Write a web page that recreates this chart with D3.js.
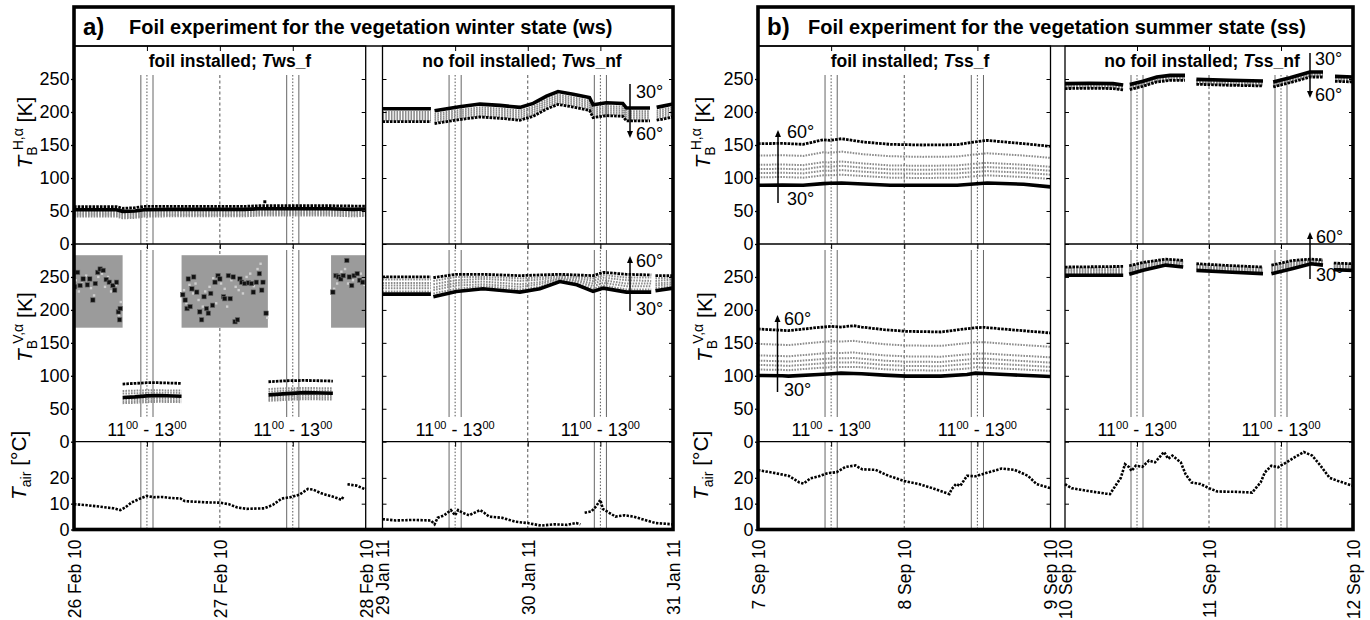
<!DOCTYPE html>
<html><head><meta charset="utf-8">
<script src="https://cdn.jsdelivr.net/npm/d3@7"></script>
<style>body{margin:0;background:#fff} svg{display:block;font-family:"Liberation Sans",Arial,sans-serif}</style>
</head><body><svg id="c" width="1370" height="620"></svg>
<script>
// ================= DATA =================
const angles = ["30°","35°","40°","45°","50°","55°","60°"];
const hTicks = [0,50,100,150,200,250];
const tTicks = [0,10,20];
const dateTicks = [0,24,48];
const guideSolid = [11,13,35,37];
const guideDot = [12,36];
const guideDash = [24];
const noonLabels = [12,36];

const datesWsF = ["26 Feb 10","27 Feb 10","28 Feb 10"];
const datesWsNF = ["29 Jan 11","30 Jan 11","31 Jan 11"];
const datesSsF = ["7 Sep 10","8 Sep 10","9 Sep 10"];
const datesSsNF = ["10 Sep 10","11 Sep 10","12 Sep 10"];

// ---- winter state, foil (ws_f) ----
const wsfH_t = [0,4,7,8,10,11.5,16,22,28,30.5,31.5,36,42,46,48];
const wsfH = [
 [52,52,52,49.5,50,52,52.5,52.5,52.5,53.5,53.5,53.5,53.5,52.5,53],
 [49.5,49.5,49.5,47,47.5,49.5,50,50,50,51,51,51,51,50,50.5],
 [47.5,47.5,47.5,45,45.5,47.5,48,48,48,49,49,49,49,48,48.5],
 [45.5,45.5,45.5,43,43.5,45.5,46,46,46,47,47,47,47,46,46.5],
 [43.5,43.5,43.5,41,41.5,43.5,44,44,44,45,45,45,45,44,44.5],
 [41.5,41.5,41.5,39,39.5,41.5,42,42,42,43,43,43,43,42,42.5],
 [56.5,56.5,56.5,54,55,57,57,57,57,58,58,58,58,57.5,57.5]
];
const wsfH_out = [[31.4,64]];
const wsfV_t = [8,10,12,14,17.7,25,32,35,38,42.6];
const wsfV = [
 [67,68,69.5,70,69,null,71,73,74.5,73.5],
 [64,64.5,65.5,66,65.5,null,67.5,69,70,69.5],
 [61,61.5,62.5,63,62.5,null,64.5,66,67,66.5],
 [58.5,59,60,60.5,60,null,62,63.5,64.5,64],
 [73,73.5,74,74.5,74,null,76,77.5,78,77.5],
 [77,77.5,78,78,77.5,null,80,81,81.5,81],
 [87.5,88.5,89.5,89.5,88.5,null,91,92.5,93,92]
];
const wsfV_maskStart = [0,17.7,42.3];
const wsfV_maskEnd = [8,31.9,48];
const wsfV_maskK = [173,283];
const wsfV_blk = [[0.1,235],[0.6,257],[1.0,237],[1.5,247],[2.2,238],[2.6,247],[3.1,215],[3.5,240],[3.9,257],[4.3,262],[4.8,260],[5.3,246],[5.8,242],[6.4,237],[6.7,230],[7.0,242],[7.3,197],[7.5,185],[7.6,202],
 [17.9,223],[18.3,215],[18.6,202],[18.8,247],[19.1,205],[19.4,232],[19.7,250],[20.2,227],[20.7,197],[21.0,185],[21.4,220],[21.8,202],[22.1,195],[22.5,225],[22.8,207],[23.2,242],[23.7,252],[24.0,247],[24.6,220],[24.8,217],[25.4,252],[25.7,217],[26.2,250],[26.5,182],[26.9,185],[27.3,247],[27.6,242],[28.1,240],[28.7,241],[29.2,240],[29.5,227],[30.0,242],[30.5,255],[30.9,230],[31.1,242],[31.6,195],
 [42.6,227],[43.1,252],[43.5,250],[43.9,247],[44.3,252],[44.9,275],[45.3,250],[45.7,237],[46.1,252],[46.6,255],[47.0,245],[47.5,242]];
const wsfV_gry = [[0.3,245],[0.8,228],[1.3,240],[2.0,252],[2.8,233],[3.3,222],[4.0,250],[4.6,255],[5.1,235],[5.6,250],[6.1,228],[6.9,238],[7.4,192],[7.7,212],
 [18.1,230],[18.5,210],[19.0,238],[19.6,225],[20.0,240],[20.5,215],[21.2,205],[21.6,228],[22.3,235],[22.9,248],[23.4,210],[24.2,240],[24.8,232],[25.2,205],[25.9,245],[26.6,235],[27.1,230],[27.8,225],[28.4,250],[29.0,255],[29.6,236],[30.2,262],[30.7,270],[31.3,240],[31.8,188],
 [42.8,232],[43.3,240],[44.0,258],[44.6,262],[45.1,240],[45.9,245],[46.4,250],[47.2,255],[47.8,238]];
const wsfT_t = [0,2.2,4.4,6.5,7.6,8.4,9.5,10.9,12,13.1,14.5,16,17.5,18.2,19.6,21.8,24,25.5,26.9,28.4,31.3,32.7,34.2,35.6,37.1,38.5,39.3,40.7,42.9,44,44.4,44.7,45,46.5,48];
const wsfT = [9.8,9.4,8.8,8.2,7.5,8.5,10.5,12,13,12.5,12.6,12.2,12,11,10.8,10.5,10.4,9.8,8.5,8,8.2,9.5,12,12.5,13.5,15.7,15.5,14,12.5,11.5,13,null,17.5,17,15.5];

// ---- winter state, no foil (ws_nf) ----
const wsnfH_t = [0,8,8.3,8.6,12.7,16.1,19.4,22.7,24.9,27.1,29,31.5,34.2,34.8,37,39.7,40.3,44.2,44.75,45.3,48];
const wsnfH = [
 [205,205,null,202,208,212,210,207,213,224,231,227,222,211,214,213,206,206,null,207,212],
 [200,200,null,197,203,207,205,202,208,219,226,222,217,206,209,208,201,201,null,202,207],
 [197,197,null,194,200,204,202,199,205,216,223,219,214,203,206,205,198,198,null,199,204],
 [194,194,null,191,197,201,199,196,202,213,220,216,211,200,203,202,195,195,null,196,201],
 [191,191,null,188,194,198,196,193,199,210,217,213,208,197,200,199,192,192,null,193,198],
 [188,188,null,185,191,195,193,190,196,207,214,210,205,194,197,196,189,189,null,190,195],
 [185.5,185.5,null,182.5,188.5,192.5,190.5,187.5,193.5,204.5,211.5,207.5,202.5,191.5,194.5,193.5,186.5,186.5,null,187.5,192.5]
];
const wsnfV_t = [0,8,8.2,8.4,12.2,16.6,22.7,26,29.3,32.1,34.8,36.5,40.3,44.4,44.75,45.1,48];
const wsnfV = [
 [224,224,null,220,228,232,227,232,243,238,228,233,227,227,null,229,233],
 [228,228,null,225,232,236,231,235,245,240,232,237,231,231,null,233,236],
 [233,233,null,230,237,239,235,239,247,243,236,241,236,236,null,237,239],
 [237,237,null,234,241,243,239,242,248,245,240,245,240,240,null,240,242],
 [241,241,null,239,245,247,244,246,250,248,244,249,245,244,null,244,246],
 [246,246,null,244,250,250,248,249,252,250,248,253,249,249,null,248,249],
 [250,250,null,249,254,254,252,253,254,253,252,257,254,253,null,252,252]
];
const wsnfT_t = [0,2.2,5.1,8,8.6,9.1,10.2,11.3,12,12.5,13.2,14.3,16.1,16.8,17.6,19.8,22,24,26.2,28.4,30.5,32,32.7,33.05,33.4,34.5,35.3,36,36.4,37.1,38.5,40,41.5,42.9,45.1,48];
const wsnfT = [4,3.5,3.7,3.5,2,4.5,5.5,7.5,5.5,7.5,6.5,5.5,7.5,6.5,5,4.5,3,2.5,1.5,2,1.8,2.5,2,null,6.5,7,9,11.5,8,7,5,5.5,5,4,2.5,2];

// ---- summer state, foil (ss_f) ----
const ssfH_t = [0,4,7.4,10.7,11.8,13.7,17.3,21.7,27,32.7,35.4,37.6,43.6,48];
const ssfH = [
 [89,89.5,89,91.5,92,92.5,91,89,89,89,91,92.5,90.5,86.5],
 [101,101.5,100.5,104,104,105,103,100.5,100,100.5,102.5,104,101.5,98.5],
 [107.5,108,107,111,111,112,109.5,107,106.5,107,109,110.5,108,105],
 [113.5,114,113,117.5,117,118.5,115.5,113,112.5,113,115,116.5,114,111],
 [120,120.5,119.5,124,123.5,125,122,119,118.5,119,121.5,123,120,117],
 [134,134.5,133.5,139,138,140,136,133,132,132.5,135.5,137.5,134,130.5],
 [152,152.5,151,158,157,159.5,154.5,151,150,150.5,154.5,157,152,148]
];
const ssfV_t = [0,4,5,10,12.1,13.6,15.7,17,20.7,24.3,30,34.3,35.7,37.1,41.4,48];
const ssfV = [
 [100.5,100,99.5,102,103,104,103.5,103,101,99.5,99.5,102,104,103.5,101.5,99],
 [109.5,109,108.5,112,113,113.5,113.5,113,110,108.5,108,111,113,112.5,110.5,107.5],
 [116.5,115.5,115,118.5,120,120,120.5,119.5,116.5,115,114.5,118,119.5,119.5,117,113.5],
 [123,122,121.5,125,126.5,126.5,127,126,123,121.5,121,124.5,126,126,123.5,120],
 [131,130,129.5,133.5,135,134.5,135.5,134,131,129.5,129,132.5,134,134,131.5,128],
 [148.5,147,146.5,151,152.5,152,153,151.5,148,146,145.5,149.5,151,151,148,144],
 [171,169,168.5,173.5,175,174,176,174,170,167.5,166.5,171.5,173,173.5,170,165]
];
const ssfT_t = [0,2.9,5,6.8,7.5,8.6,10,11.4,12.9,14.3,16,17.1,19.3,21.4,24,26.4,28.6,31.4,31.8,32.5,33.2,34.3,35.7,37.9,40,42.1,44.3,45.7,48];
const ssfT = [23,21.8,20.8,18.2,17.8,19.8,20.6,21.8,22.2,24.2,24.8,23.3,23.1,20.8,18.8,17.6,16,13.7,15.7,17.6,16.9,20.8,20.6,22.2,23.6,23.1,20.8,17.6,16];

// ---- summer state, no foil (ss_nf) ----
const ssnfH_t = [0,4,8,9.7,10.25,10.8,13,15.3,17.5,20,20.9,21.9,27.5,33,33.8,34.7,37.5,40.8,43,44,45,48];
const ssnfH = [
 [243,243.5,243,241,null,241.5,246.5,253,255.5,255.5,null,249.5,248,247,null,245.5,252,260.5,260.5,null,254,253],
 [242,242.5,242,240,null,240.5,245.5,252,254.5,254.5,null,248.5,247,246,null,244.5,251,259.5,259.5,null,253,252],
 [240.5,241,240.5,238.5,null,239,244,250.5,253,253,null,247,245.5,244.5,null,243,249.5,258,258,null,251.5,250.5],
 [239,239.5,239,237,null,237.5,242.5,249,251.5,251.5,null,245.5,244,243,null,241.5,248,256.5,256.5,null,250,249],
 [238,238.5,238,236,null,236.5,241.5,248,250.5,250.5,null,244.5,243,242,null,240.5,247,255.5,255.5,null,249,248],
 [236.5,237,236.5,234.5,null,235,240,246.5,249,249,null,243,241.5,240.5,null,239,245.5,254,254,null,247.5,246.5],
 [235.5,236,235.5,233.5,null,234,239,245.5,248,248,null,242,240.5,239.5,null,238,244.5,253,253,null,246.5,245.5]
];
const ssnfV_t = [0,9.7,10.2,10.7,13,16.8,19.7,20.8,21.9,27,33,33.7,34.4,38,41,43,43.9,44.8,48];
const ssnfV = [
 [252.5,252.5,null,254,260,268,265,null,260,257.5,255,null,255,263,270,268,null,261,260],
 [254.5,255,null,256,262,269.5,266.5,null,261.5,259,256.5,null,257,265,271,269.5,null,262.5,261.5],
 [256.5,257,null,258.5,264,271,268.5,null,263.5,261,258.5,null,259.5,267,272.5,270.5,null,264.5,263.5],
 [259,259.5,null,260.5,266,272.5,270,null,265,262.5,260,null,261.5,269,273.5,272,null,266,265],
 [261,261.5,null,262.5,268,274,271.5,null,266.5,264,261.5,null,263.5,271,274.5,273.5,null,267.5,266.5],
 [263,264,null,265,270,275.5,273.5,null,268.5,266,263.5,null,266,273,276,274.5,null,269.5,268.5],
 [265,266,null,267,272,277,275,null,270,267.5,265,null,268,275,277,276,null,271,270]
];
const ssnfT_t = [0,1.1,3.9,6.8,7.5,8.6,9.3,10,10.7,11.1,11.8,12.9,14,15,16.5,17.2,17.9,19.3,20.1,21.1,22.6,24,25.4,28.3,31.2,31.9,32.6,33.3,34.4,35.5,36.9,38.3,39.8,41.2,42.6,44.1,45.5,48];
const ssnfT = [17.6,16,14.9,13.9,13.7,17.6,20,25.3,24.1,22.7,24.7,24.3,26.7,26,30,27.4,28.6,26,21.4,18.2,17.6,16,14.7,14.6,14.3,16.3,18.2,22.1,24.7,24.1,26,28,30,28.6,24.7,20,18.8,16.9];

// ================= LAYOUT =================
const svg = d3.select("#c");
const FONT = '"Liberation Sans", Arial, sans-serif';
const Yl = {top:7, tb:46, hb:244, vb:441.7, bot:529.5};
const yH = d3.scaleLinear().domain([0,300]).range([Yl.hb, Yl.tb]);
const yV = d3.scaleLinear().domain([0,300]).range([Yl.vb, Yl.hb]);
const yT = d3.scaleLinear().domain([0,34]).range([Yl.bot, Yl.vb]);

const panels = [
 {x0:74, x1:673, letter:"a)", title:"Foil experiment for the vegetation winter state (ws)", titleX:129, labX:[32,32,26],
  subs:[
   {x0:74, x1:365.7, pre:"foil installed; ", suf:"ws_f", subX:230, H:[wsfH_t,wsfH], V:[wsfV_t,wsfV], T:[wsfT_t,wsfT], dates:datesWsF, mask:true, out:true},
   {x0:382.5, x1:673, pre:"no foil installed; ", suf:"ws_nf", subX:522, H:[wsnfH_t,wsnfH], V:[wsnfV_t,wsnfV], T:[wsnfT_t,wsnfT], dates:datesWsNF,
    ann:[{p:"H",dir:"down",x:630,y1:84,y2:138,tx:636,top:"30°",topY:98,bot:"60°",botY:140},
         {p:"V",dir:"up",x:630,y1:311,y2:256,tx:636,top:"60°",topY:267,bot:"30°",botY:315}]}
  ]},
 {x0:758, x1:1353, letter:"b)", title:"Foil experiment for the vegetation summer state (ss)", titleX:808, labX:[710,712,708],
  subs:[
   {x0:758, x1:1050.5, pre:"foil installed; ", suf:"ss_f", subX:910, H:[ssfH_t,ssfH], V:[ssfV_t,ssfV], T:[ssfT_t,ssfT], dates:datesSsF,
    ann:[{p:"H",dir:"up",x:778,y1:203,y2:130,tx:787,top:"60°",topY:138,bot:"30°",botY:205},
         {p:"V",dir:"up",x:777.5,y1:392,y2:315,tx:784,top:"60°",topY:325,bot:"30°",botY:396}]},
   {x0:1065, x1:1353, pre:"no foil installed; ", suf:"ss_nf", subX:1202, H:[ssnfH_t,ssnfH], V:[ssnfV_t,ssnfV], T:[ssnfT_t,ssnfT], dates:datesSsNF,
    ann:[{p:"H",dir:"down",x:1310,y1:53,y2:98,tx:1315,top:"30°",topY:65,bot:"60°",botY:101},
         {p:"V",dir:"up",x:1310,y1:279,y2:232,tx:1316,top:"60°",topY:243,bot:"30°",botY:281}]}
  ]}
];

const defs = svg.append("defs");
let clipId = 0;
function clip(x0,y0,x1,y1){
  const id = "cl"+(clipId++);
  defs.append("clipPath").attr("id",id).append("rect").attr("x",x0).attr("y",y0).attr("width",x1-x0).attr("height",y1-y0);
  return "url(#"+id+")";
}

function styleSeries(sel,i){
  if(i===0) sel.attr("stroke","#000").attr("stroke-width",3.6);
  else if(i===6) sel.attr("stroke","#000").attr("stroke-width",2.8).attr("stroke-dasharray","2.6,1.1");
  else sel.attr("stroke","#8c8c8c").attr("stroke-width",2).attr("stroke-dasharray","1.6,1.2");
}

function drawBand(g, x, y, t, vals){
  const line = d3.line().defined(d=>d[1]!=null).x(d=>x(d[0])).y(d=>y(d[1]));
  const order = [1,2,3,4,5,6,0];
  order.forEach(i=>{
    const data = t.map((tt,j)=>[tt, vals[i][j]]);
    g.append("path").datum(data).attr("fill","none").attr("d",line).call(styleSeries,i).attr("class","ang"+angles[i]);
  });
}

panels.forEach(P=>{
  const gp = svg.append("g");
  P.subs.forEach((S,si)=>{
    const x = d3.scaleLinear().domain([0,48]).range([S.x0,S.x1]);
    const g = gp.append("g");
    // guide lines
    const seg = [[75,Yl.hb],[250,417],[Yl.vb,Yl.bot]];
    guideSolid.forEach(h=>seg.forEach(s=>g.append("line").attr("x1",x(h)).attr("x2",x(h)).attr("y1",s[0]).attr("y2",s[1]).attr("stroke","#666").attr("stroke-width",1)));
    guideDot.forEach(h=>[[75,417],[Yl.vb,Yl.bot]].forEach(s=>g.append("line").attr("x1",x(h)).attr("x2",x(h)).attr("y1",s[0]).attr("y2",s[1]).attr("stroke","#555").attr("stroke-width",1).attr("stroke-dasharray","1.5,1.8")));
    guideDash.forEach(h=>g.append("line").attr("x1",x(h)).attr("x2",x(h)).attr("y1",75).attr("y2",Yl.bot).attr("stroke","#555").attr("stroke-width",1).attr("stroke-dasharray","3,2.5"));

    // masks
    if(S.mask){
      wsfV_maskStart.forEach((a,k)=>{
        g.append("rect").attr("x",x(a)).attr("width",x(wsfV_maskEnd[k])-x(a))
          .attr("y",yV(wsfV_maskK[1])).attr("height",yV(wsfV_maskK[0])-yV(wsfV_maskK[1])).attr("fill","#9b9b9b");
      });
      const gm = g.append("g").attr("clip-path",clip(S.x0,yV(wsfV_maskK[1]),S.x1,yV(wsfV_maskK[0])));
      gm.selectAll(".gs").data(wsfV_gry).join("rect").attr("x",d=>x(d[0])-1.2).attr("y",d=>yV(d[1])-1.2).attr("width",2.4).attr("height",2.4).attr("fill","#cfcfcf");
      gm.selectAll(".bs").data(wsfV_blk).join("rect").attr("x",d=>x(d[0])-2.2).attr("y",d=>yV(d[1])-2.2).attr("width",4.4).attr("height",4.4).attr("fill","#111").attr("stroke","#666").attr("stroke-width",0.6);
    }
    // data bands
    const gH = g.append("g").attr("clip-path",clip(S.x0-2,Yl.tb,S.x1+2,Yl.hb));
    drawBand(gH, x, yH, S.H[0], S.H[1]);
    if(S.out){
      gH.selectAll(".o").data(wsfH_out).join("rect").attr("x",d=>x(d[0])-1.5).attr("y",d=>yH(d[1])-1.5).attr("width",3).attr("height",3).attr("fill","#000");
    }
    const gV = g.append("g").attr("clip-path",clip(S.x0-2,Yl.hb,S.x1+2,Yl.vb));
    drawBand(gV, x, yV, S.V[0], S.V[1]);
    const gT = g.append("g").attr("clip-path",clip(S.x0-2,Yl.vb,S.x1+2,Yl.bot));
    const tl = d3.line().defined(d=>d[1]!=null).x(d=>x(d[0])).y(d=>yT(d[1]));
    gT.append("path").datum(S.T[0].map((tt,j)=>[tt,S.T[1][j]])).attr("d",tl).attr("fill","none")
      .attr("stroke","#000").attr("stroke-width",2.6).attr("stroke-dasharray","2.4,1.4");

    // frames
    g.append("rect").attr("x",S.x0).attr("y",Yl.tb).attr("width",S.x1-S.x0).attr("height",Yl.bot-Yl.tb)
      .attr("fill","none").attr("stroke","#000").attr("stroke-width",1.3);
    [Yl.hb,Yl.vb].forEach(yy=>g.append("line").attr("x1",S.x0).attr("x2",S.x1).attr("y1",yy).attr("y2",yy).attr("stroke","#000").attr("stroke-width",1.3));

    // inner ticks
    const tickSet = [[yH,hTicks],[yV,hTicks],[yT,tTicks]];
    tickSet.forEach(([sc,tv])=>{
      const axR = g.append("g").attr("transform",`translate(${S.x1},0)`).call(d3.axisLeft(sc).tickValues(tv).tickSize(4).tickFormat(""));
      axR.select(".domain").remove();
      if(si===1){
        const axL = g.append("g").attr("transform",`translate(${S.x0},0)`).call(d3.axisRight(sc).tickValues(tv).tickSize(4).tickFormat(""));
        axL.select(".domain").remove();
      } else {
        const axL = g.append("g").attr("transform",`translate(${S.x0},0)`).call(d3.axisLeft(sc).tickValues(tv).tickSize(3).tickPadding(1.5));
        axL.select(".domain").remove();
        axL.attr("font-family",FONT).attr("font-size",18);
        axL.selectAll("text").attr("fill","#000");
        axL.selectAll("line").attr("stroke-width",1.3);
      }
    });
    // top ticks of panels
    [Yl.tb,Yl.hb,Yl.vb].forEach(yy=>{
      const a = g.append("g").attr("transform",`translate(0,${yy})`).call(d3.axisBottom(x).tickValues(guideDot.concat(guideDash)).tickSize(5).tickFormat(""));
      a.select(".domain").remove();
    });
    // bottom date axis
    const ax = g.append("g").attr("transform",`translate(0,${Yl.bot})`)
      .call(d3.axisBottom(x).tickValues(dateTicks).tickSize(0).tickFormat((d,i)=>S.dates[i]));
    ax.select(".domain").remove();
    ax.attr("font-family",FONT).attr("font-size",17.5);
    ax.selectAll("text").attr("fill","#000").attr("transform","rotate(-90)").attr("x",-10).attr("y",0).attr("dy","0.36em").attr("text-anchor","end");

    // subtitle
    const st = g.append("text").attr("x",S.subX).attr("y",67).attr("text-anchor","middle").attr("font-size",17.5).attr("font-weight","bold");
    st.append("tspan").text(S.pre);
    st.append("tspan").attr("font-style","italic").text("T");
    st.append("tspan").text(S.suf);

    // 11-13 labels
    noonLabels.forEach(h=>{
      const t = g.append("text").attr("x",x(h)).attr("y",436).attr("text-anchor","middle").attr("font-size",18);
      t.append("tspan").text("11");
      t.append("tspan").attr("font-size",11).attr("dy",-7.5).text("00");
      t.append("tspan").attr("dy",7.5).text(" - 13");
      t.append("tspan").attr("font-size",11).attr("dy",-7.5).text("00");
    });

    // angle annotations
    (S.ann||[]).forEach(A=>{
      g.append("line").attr("x1",A.x).attr("x2",A.x).attr("y1",A.y1).attr("y2",A.dir==="up"?A.y2+5:A.y2-5).attr("stroke","#000").attr("stroke-width",1.5);
      const s = A.dir==="up"?1:-1;
      g.append("path").attr("d",`M${A.x},${A.y2} L${A.x-3},${A.y2+7*s} L${A.x+3},${A.y2+7*s} Z`).attr("fill","#000");
      g.append("text").attr("x",A.tx).attr("y",A.topY).attr("font-size",18).text(A.top);
      g.append("text").attr("x",A.tx).attr("y",A.botY).attr("font-size",18).text(A.bot);
    });
  });

  // outer frame and title
  gp.append("line").attr("x1",P.x0).attr("x2",P.x1).attr("y1",Yl.tb).attr("y2",Yl.tb).attr("stroke","#000").attr("stroke-width",1.6);
  gp.append("rect").attr("x",P.x0).attr("y",Yl.top).attr("width",P.x1-P.x0).attr("height",Yl.bot-Yl.top)
    .attr("fill","none").attr("stroke","#000").attr("stroke-width",3.6);
  gp.append("text").attr("x",P.x0+9).attr("y",35).attr("font-size",24).attr("font-weight","bold").text(P.letter);
  gp.append("text").attr("x",P.titleX).attr("y",34).attr("font-size",20).attr("font-weight","bold").text(P.title);

  // y axis titles
  const mk = (xx, y0, sup, unit)=>{
    const t = gp.append("text").attr("transform",`translate(${xx},${y0}) rotate(-90)`).attr("font-size",21);
    t.append("tspan").attr("font-style","italic").text("T");
    t.append("tspan").attr("font-size",14).attr("dy",5).text("B");
    t.append("tspan").attr("font-size",14).attr("dx",-4).attr("dy",-14).text(sup);
    t.append("tspan").attr("dy",9).text(unit);
  };
  mk(P.labX[0], 168.5, "H,α", " [K]");
  mk(P.labX[1], 362, "V,α", " [K]");
  const ta = gp.append("text").attr("transform",`translate(${P.labX[2]},500) rotate(-90)`).attr("font-size",21);
  ta.append("tspan").attr("font-style","italic").text("T");
  ta.append("tspan").attr("font-size",14).attr("dy",5).text("air");
  ta.append("tspan").attr("dy",-5).text(" [°C]");
});
</script></body></html>
